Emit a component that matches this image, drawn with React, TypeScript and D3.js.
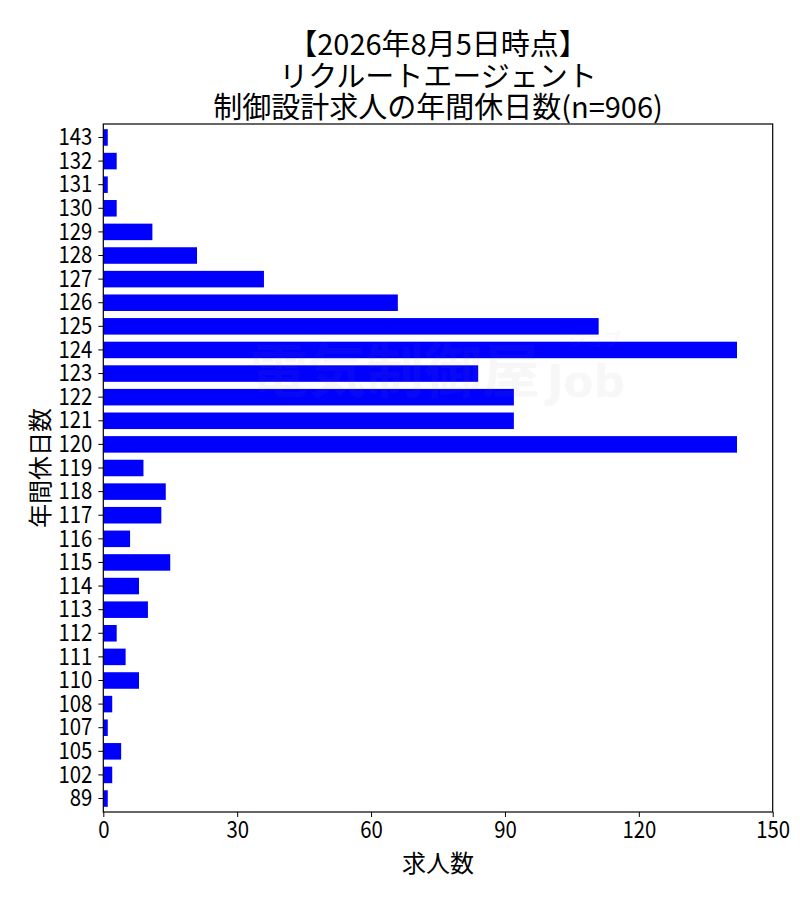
import React, { useRef, useEffect } from "react";
import * as d3 from "d3";

const holidays = [
    "143", "132", "131", "130", "129", "128", "127", "126", "125", "124",
    "123", "122", "121", "120", "119", "118", "117", "116", "115", "114",
    "113", "112", "111", "110", "108", "107", "105", "102", "89",
];
const counts = [
    1, 3, 1, 3, 11, 21, 36, 66, 111, 142,
    84, 92, 92, 142, 9, 14, 13, 6, 15, 8,
    10, 3, 5, 8, 2, 1, 4, 2, 1,
];
const xTicks = [0, 30, 60, 90, 120, 150];
const titleLines = ["【2026年8月5日時点】", "リクルートエージェント", "制御設計求人の年間休日数(n=906)"];

const FONT = "'Noto Sans CJK JP', 'Noto Sans', sans-serif";

export const HolidayChart = () => {
    const svgRef = useRef<SVGSVGElement>(null);

    useEffect(() => {
        if (!svgRef.current) return;
        const svg = d3.select(svgRef.current);
        svg.selectAll("*").remove();

        const width = 800;
        const height = 900;
        const margin = { top: 124, right: 27.3, bottom: 88, left: 103.3 };

        const x = d3
            .scaleLinear()
            .domain([0, 150])
            .range([margin.left, width - margin.right]);

        const y = d3
            .scaleBand()
            .domain(holidays)
            .range([margin.top, height - margin.bottom])
            .paddingInner(0.3)
            .paddingOuter(0.22);

        // bars
        svg.append("g")
            .selectAll("rect")
            .data(counts)
            .enter()
            .append("rect")
            .attr("x", x(0))
            .attr("y", (d, i) => y(holidays[i]) || 0)
            .attr("width", (d) => x(d) - x(0))
            .attr("height", y.bandwidth())
            .attr("fill", "#0000ff");

        // faint watermark
        const wm = svg.append("g").attr("opacity", 0.06).attr("fill", "#888");
        wm.append("text")
            .attr("x", 250)
            .attr("y", 392)
            .attr("font-family", FONT)
            .attr("font-size", 58)
            .attr("font-weight", "bold")
            .text("電気制御屋");
        wm.append("text")
            .attr("x", 547)
            .attr("y", 397)
            .attr("font-family", "'DejaVu Sans', sans-serif")
            .attr("font-size", 44)
            .attr("font-weight", "bold")
            .text("Job");
        wm.append("text")
            .attr("x", 568)
            .attr("y", 346)
            .attr("font-family", FONT)
            .attr("font-size", 18)
            .text("ジョブ");

        // frame
        svg.append("rect")
            .attr("x", margin.left)
            .attr("y", margin.top)
            .attr("width", width - margin.right - margin.left)
            .attr("height", height - margin.bottom - margin.top)
            .attr("fill", "none")
            .attr("stroke", "#000")
            .attr("stroke-width", 1.2);

        const xAxis = svg.append("g")
            .attr("transform", `translate(0,${height - margin.bottom})`)
            .call(d3.axisBottom(x).tickValues(xTicks).tickSize(5).tickPadding(4));
        xAxis.select(".domain").remove();

        const yAxis = svg.append("g")
            .attr("transform", `translate(${margin.left},0)`)
            .call(d3.axisLeft(y).tickSize(5).tickPadding(6));
        yAxis.select(".domain").remove();

        // narrow digits like the original gothic font
        svg.selectAll<SVGTextElement, any>(".tick text")
            .attr("font-family", FONT)
            .attr("font-size", 24)
            .attr("fill", "#000")
            .attr("textLength", (d) => String(d).length * 11.3)
            .attr("lengthAdjust", "spacingAndGlyphs");
        svg.selectAll(".tick line").attr("stroke", "#000").attr("stroke-width", 1);

        // titles
        const cx = (margin.left + width - margin.right) / 2;
        svg.append("g")
            .selectAll("text")
            .data(titleLines)
            .enter()
            .append("text")
            .attr("x", cx)
            .attr("y", (d, i) => 42 + i * 31.5)
            .attr("text-anchor", "middle")
            .attr("dominant-baseline", "central")
            .attr("font-family", FONT)
            .attr("font-size", 29)
            .text((d) => d);

        svg.append("text")
            .attr("x", cx)
            .attr("y", 861)
            .attr("text-anchor", "middle")
            .attr("dominant-baseline", "central")
            .attr("font-family", FONT)
            .attr("font-size", 24)
            .text("求人数");

        svg.append("text")
            .attr("transform", `translate(38.5,${(margin.top + height - margin.bottom) / 2}) rotate(-90)`)
            .attr("text-anchor", "middle")
            .attr("dominant-baseline", "central")
            .attr("font-family", FONT)
            .attr("font-size", 24)
            .text("年間休日数");

        svg.attr("width", width)
            .attr("height", height)
            .attr("viewBox", [0, 0, width, height].join(" "));
    }, []);

    return (
        <svg
            ref={svgRef}
            style={{ position: "absolute", left: 0, top: 0, background: "#fff" }}
        />
    );
};

export default function App() {
    return <HolidayChart />;
}
